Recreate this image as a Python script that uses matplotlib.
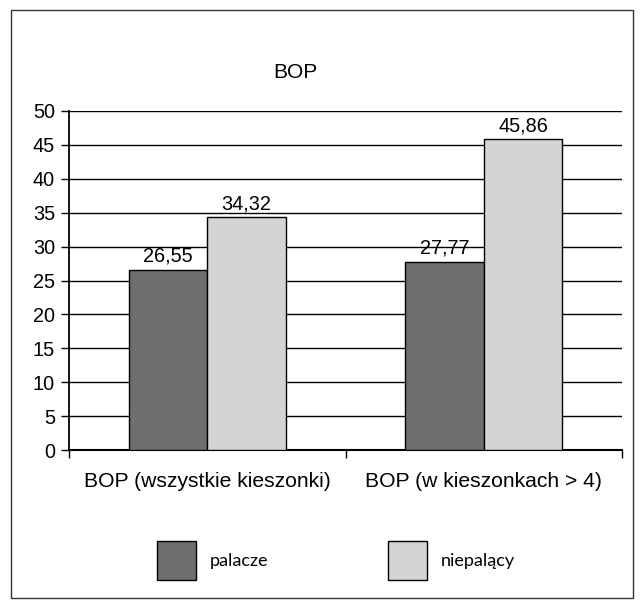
import matplotlib.pyplot as plt
from matplotlib.patches import Rectangle
import numpy as np

categories = ["BOP (wszystkie kieszonki)", "BOP (w kieszonkach > 4)"]
series_names = ["palacze", "niepalący"]
palacze = [26.55, 27.77]
niepalacy = [34.32, 45.86]
yticks = [0, 5, 10, 15, 20, 25, 30, 35, 40, 45, 50]

W, H = 644, 608
fig = plt.figure(figsize=(W / 100, H / 100), dpi=100)
plt.rcParams['font.family'] = ['Liberation Sans', 'DejaVu Sans']

# outer chart border
fig.patches.append(Rectangle((11 / W, 1 - 598 / H), (633 - 11) / W, (598 - 10) / H,
                             transform=fig.transFigure, fill=False,
                             edgecolor='#333333', linewidth=1.0))

ax = fig.add_axes([69 / W, 1 - 450 / H, (622 - 69) / W, (450 - 111) / H])
x = np.arange(len(categories))
bw = 0.284
colors = ['#6f6f71', '#d4d4d6']
for i, (vals, c) in enumerate(zip([palacze, niepalacy], colors)):
    xs = x + (i - 0.5) * bw
    ax.bar(xs, vals, width=bw, color=c, edgecolor='black', linewidth=1.0, zorder=3)
    for xi, v in zip(xs, vals):
        ax.text(xi, v + 0.6, f"{v:.2f}".replace('.', ','), ha='center', va='bottom',
                fontsize=14.3, color='black')

ax.set_xlim(-0.5, 1.5)
ax.set_ylim(0, 50)
ax.set_yticks(yticks)
ax.set_yticklabels([str(t) for t in yticks], fontsize=14.3)
ax.yaxis.grid(True, color='black', linewidth=1.0, zorder=0)
ax.set_axisbelow(True)
ax.tick_params(axis='y', length=6, width=1.0, direction='out', pad=4)
ax.set_xticks([-0.5, 0.5, 1.5])
ax.set_xticklabels([])
ax.tick_params(axis='x', length=6, width=1.0, direction='out')
for s in ['top', 'right']:
    ax.spines[s].set_visible(False)
ax.spines['left'].set_linewidth(1.3)
ax.spines['bottom'].set_linewidth(1.5)

for xi, lab in zip(x, categories):
    ax.annotate(lab, xy=(xi, 0), xycoords='data', xytext=(0, -23),
                textcoords='offset points', ha='center', va='center', fontsize=15.2)

fig.text(295 / W, 1 - 73 / H, "BOP", ha='center', va='center', fontsize=15)

# legend
leg_x = [157, 388]
for lx, name, c in zip(leg_x, series_names, colors):
    fig.patches.append(Rectangle((lx / W, 1 - 580 / H), 39 / W, 39 / H,
                                 transform=fig.transFigure, facecolor=c,
                                 edgecolor='black', linewidth=1.0))
    fig.text((lx + 53) / W, 1 - 561 / H, name, ha='left', va='center',
             fontsize=13, family=['Lato', 'DejaVu Sans'])

fig.savefig("out.png", dpi=100, facecolor='white')
